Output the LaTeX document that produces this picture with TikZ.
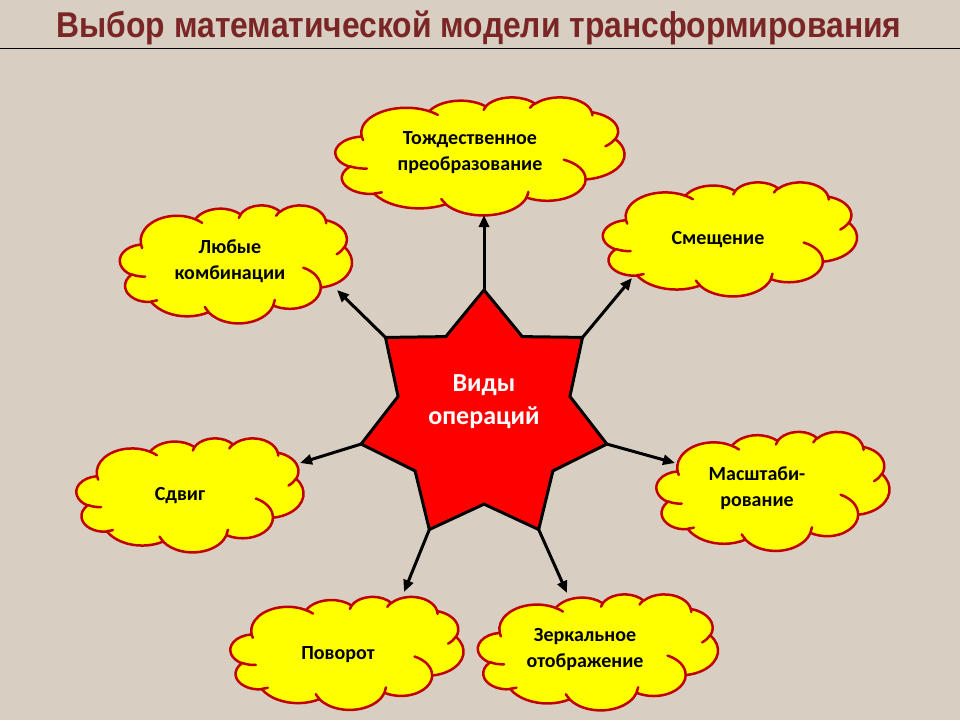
\documentclass[tikz,border=0pt]{standalone}
\usepackage{graphicx}
\usepackage{fontspec}
\setmainfont{Carlito}
\newfontfamily\titlefont{Liberation Sans}
\usetikzlibrary{shapes.geometric,arrows.meta}
\definecolor{bg}{HTML}{D8CFC2}
\definecolor{titlec}{HTML}{7A2626}
\definecolor{cloudline}{HTML}{C00000}
\definecolor{cloudfill}{HTML}{FFFF00}
\definecolor{starfill}{HTML}{FF0000}
% elliptical arc with OOXML-style (polar) angles
\newcommand\pca[4]{arc[x radius=#1, y radius=#2,
  start angle={atan2((#1)*sin(#3),(#2)*cos(#3))},
  delta angle={mod(atan2((#1)*sin((#3)+(#4)),(#2)*cos((#3)+(#4)))-atan2((#1)*sin(#3),(#2)*cos(#3))+720,360)}]}
\newcommand\drawpcloud[4]{% cx cy w h
  \pgfmathsetmacro\pcux{#3/4320}\pgfmathsetmacro\pcuy{-#4/4320}%
  \begin{scope}[shift={({#1-#3/2},{#2-#4/2})}, x=\pcux pt, y=\pcuy pt]
    \path[cloudshape] (390,1437)
      \pca{675.3}{919.0}{-190.4875}{123.7805}
      \pca{533.3}{726.7}{-144.1024}{89.9452}
      \pca{436.5}{594.5}{-145.8079}{99.7230}
      \pca{485.7}{659.5}{-130.9861}{117.2417}
      \pca{533.3}{727.3}{-78.7089}{109.0269}
      \pca{677.5}{922.0}{-46.2673}{130.2690}
      \pca{578.5}{786.7}{0.6250}{114.0333}
      \pca{675.2}{921.5}{22.4516}{115.1726}
      \pca{772.0}{1054.3}{66.2426}{75.7110}
      \pca{436.0}{591.8}{-274.9421}{146.7356}
      \pca{434.5}{594.5}{-246.8285}{152.5189} -- cycle;
    \path[cloudhook]
      (469.3,2617.7) \pca{434.5}{594.5}{86.7420}{26.4295}
      (692.8,3489.9) \pca{436.0}{591.8}{73.6105}{11.4475}
      (1647.8,3909.0) \pca{675.2}{921.5}{137.6242}{14.0811}
      (2882.7,3475.1) \pca{675.2}{921.5}{6.4533}{15.9984}
      (3412.9,2295.4) \pca{578.5}{786.7}{-70.2924}{70.9174}
      (4179.8,1535.4) \pca{533.3}{727.3}{30.3180}{27.7515}
      (3832.4,542.6) \pca{485.7}{659.5}{-13.7443}{14.8589}
      (2907.8,395.2) \pca{485.7}{659.5}{-149.1815}{18.1954}
      (2214.1,472.0) \pca{436.5}{594.5}{-163.4943}{17.6864}
      (1400.0,519.2) \pca{675.3}{919.0}{-66.7070}{12.3194}
      (412.7,1578.9) \pca{675.3}{919.0}{157.6544}{11.8582};
  \end{scope}}
\begin{document}
\begin{tikzpicture}[x=1pt,y=-1pt,
  cloudshape/.style={draw=cloudline, fill=cloudfill, line width=2.5pt, line join=round},
  cloudhook/.style={draw=cloudline, line width=2.5pt, line cap=round},
  cloudtext/.style={font=\fontsize{20}{26}\selectfont\bfseries, align=center, text=black},
  startext/.style={font=\fontsize{26}{33}\selectfont\bfseries, align=center, text=white},
  conn/.style={line width=3pt, -{Triangle[length=12pt,width=10pt]}}]
\useasboundingbox (0,0) rectangle (960,720);
\fill[bg] (0,0) rectangle (960,720);
% title
\node[anchor=base, font=\titlefont\bfseries\fontsize{32}{36}\selectfont, text=titlec, inner sep=0pt] (title) at (479,37) {\scalebox{0.995}[1.12]{Выбор математической модели трансформирования}};
\draw[line width=1pt] (0,48) -- (960,48);
% clouds
\drawpcloud{480}{156}{289}{118}
\drawpcloud{730}{239}{254}{114}
\drawpcloud{236}{264}{232}{118}
\drawpcloud{190}{495}{227}{114}
\drawpcloud{773}{491}{233}{119}
\drawpcloud{347}{653}{233}{113}
\drawpcloud{598}{652}{240}{116}
\node[cloudtext] (t1) at (470,153) {Тождественное\\преобразование};
\node[cloudtext] (t2) at (718,240) {Смещение};
\node[cloudtext] (t3) at (230,261) {Любые\\комбинации};
\node[cloudtext] (t4) at (180,496) {Сдвиг};
\node[cloudtext] (t5) at (757,488) {Масштаби-\\рование};
\node[cloudtext] (t6) at (338,655) {Поворот};
\node[cloudtext] (t7) at (585,650) {Зеркальное\\отображение};
% star
\node[star, star points=7, star point ratio=1.43, minimum size=252pt,
  fill=starfill, draw=black, line width=3pt, inner sep=0pt, outer sep=0pt] (s) at (484,416) {};
\node[startext] (st) at (484,402) {Виды\\операций};
% arrow ends
\coordinate (a1) at (484,215);
\coordinate (a2) at (337,290);
\coordinate (a3) at (300,463);
\coordinate (a4) at (404,592);
\coordinate (a5) at (567,593);
\coordinate (a6) at (675,463);
\coordinate (a7) at (632,278);
\foreach \i in {1,...,7} { \draw[conn] (s.outer point \i) -- (a\i); }
\end{tikzpicture}
\end{document}
